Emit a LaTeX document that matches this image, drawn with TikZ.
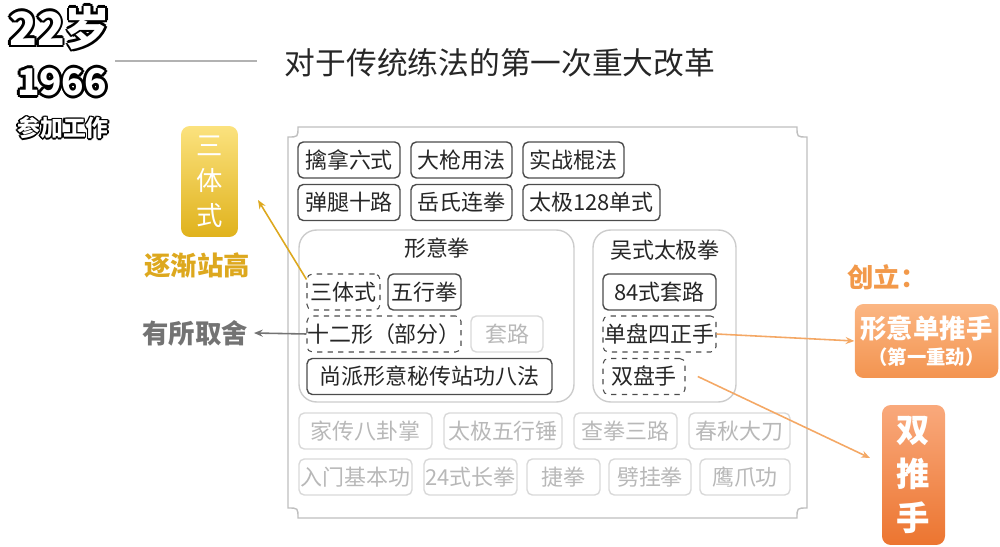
\documentclass[tikz,border=0pt]{standalone}
\usepackage{fontspec}
\setmainfont{Noto Sans CJK SC}
\usetikzlibrary{arrows.meta}
\definecolor{gold}{HTML}{DDA81E}
\definecolor{goldtop}{HTML}{FBE27E}
\definecolor{goldbot}{HTML}{E0B21C}
\definecolor{orng}{HTML}{F2994A}
\definecolor{orngtop}{HTML}{FBB683}
\definecolor{orngbot}{HTML}{F39450}
\definecolor{redtop}{HTML}{F9A97C}
\definecolor{redbot}{HTML}{EC7530}
\tikzset{
  move/.style={draw=black!70, line width=0.8pt, rounded corners=3pt, inner sep=0pt, minimum height=0.72cm, font=\fontsize{12.5}{14}\selectfont, text=black!85},
  dashmove/.style={move, dashed, line width=0.6pt},
  faded/.style={move, draw=black!15, text=black!28},
  group/.style={draw=black!20, line width=0.8pt, rounded corners=10pt, minimum height=3.44cm},
  note/.style={font=\fontsize{15}{17}\selectfont\bfseries},
  link/.style={-{Stealth[length=5pt,width=4pt]}, line width=0.9pt}
}
\begin{document}
\begin{tikzpicture}[x=0.02cm, y=-0.02cm]
\useasboundingbox (0,0) rectangle (1000,547);
% age and year
\foreach \dx/\dy in {-1.5/0,1.5/0,0/-1.5,0/1.5,-1/-1,1/1,-1/1,1/-1}{
  \node[font=\fontsize{26}{28}\selectfont\bfseries, text=black] at ([xshift=\dx pt, yshift=\dy pt]60,28) {22岁};
  \node[font=\fontsize{21}{23}\selectfont\bfseries, text=black] at ([xshift=\dx pt, yshift=\dy pt]62,82) {1966};
  \node[font=\fontsize{13}{15}\selectfont\bfseries, text=black] at ([xshift=0.6*\dx pt, yshift=0.6*\dy pt]63,128) {参加工作};
}
\node (age) [font=\fontsize{26}{28}\selectfont\bfseries, text=white] at (60,28) {22岁};
\node (year) [font=\fontsize{21}{23}\selectfont\bfseries, text=white] at (62,82) {1966};
\node (work) [font=\fontsize{13}{15}\selectfont\bfseries, text=white] at (63,128) {参加工作};
\coordinate (rulea) at (115,61);
\coordinate (ruleb) at (257,61);
\draw[black!30, line width=0.8pt] (rulea) -- (ruleb);
\node (title) [font=\fontsize{17.5}{19}\selectfont, text=black!85] at (500,63) {对于传统练法的第一次重大改革};
% frame
\draw[black!25, line width=0.8pt] (298,127) -- (797,127) .. controls (797,137) .. (807,137)
  -- (807,508) .. controls (797,508) .. (797,518) -- (298,518) .. controls (298,508) .. (288,508)
  -- (288,137) .. controls (298,137) .. (298,127) -- cycle;
% top rows
\node (qinna) [move, minimum width=2.04cm] at (349,160) {擒拿六式};
\node (daqiang) [move, minimum width=2.02cm] at (461.5,160) {大枪用法};
\node (shizhan) [move, minimum width=2.02cm] at (573.5,160) {实战棍法};
\node (tantui) [move, minimum width=2.04cm] at (349,202.5) {弹腿十路};
\node (yueshi) [move, minimum width=2.02cm] at (461.5,202.5) {岳氏连拳};
\node (taiji128) [move, minimum width=2.74cm] at (591.5,202.5) {太极128单式};
% groups
\node (xingyi) [group, minimum width=5.5cm] at (436.5,316) {};
\node [font=\fontsize{12.5}{14}\selectfont, text=black!85] at (437,248) {形意拳};
\node (wushi) [group, minimum width=2.86cm] at (664.5,316) {};
\node [font=\fontsize{12.5}{14}\selectfont, text=black!85] at (665,250) {吴式太极拳};
\node (santi) [dashmove, minimum width=1.46cm] at (343.5,292) {三体式};
\node (wuxing) [move, minimum width=1.46cm] at (424.5,292) {五行拳};
\node (shier) [dashmove, minimum width=3.08cm] at (384,334) {十二形（部分）};
\node (taolu) [faded, minimum width=1.44cm] at (507,334) {套路};
\node (shangpai) [move, minimum width=4.9cm] at (429.5,376.5) {尚派形意秘传站功八法};
\node (ba4) [move, minimum width=2.26cm] at (659.5,292) {84式套路};
\node (danpan) [dashmove, minimum width=2.26cm] at (659.5,334) {单盘四正手};
\node (shuangpan) [dashmove, minimum width=1.64cm] at (644,376.5) {双盘手};
% faded rows
\node (bagua) [faded, minimum width=2.66cm] at (365.5,431) {家传八卦掌};
\node (chui) [faded, minimum width=2.36cm] at (503,431) {太极五行锤};
\node (chaquan) [faded, minimum width=2.06cm] at (625.5,431) {查拳三路};
\node (dadao) [faded, minimum width=2.02cm] at (739.5,431) {春秋大刀};
\node (rumen) [faded, minimum width=2.26cm] at (355.5,477) {入门基本功};
\node (changquan) [faded, minimum width=1.86cm] at (470.5,477) {24式长拳};
\node (jiequan) [faded, minimum width=1.46cm] at (563.5,477) {捷拳};
\node (piqua) [faded, minimum width=1.64cm] at (650,477) {劈挂拳};
\node (yingzhua) [faded, minimum width=1.8cm] at (745,477) {鹰爪功};
% left side
\node (santibar) [top color=goldtop, bottom color=goldbot, rounded corners=5pt, minimum width=1.14cm, minimum height=2.22cm, align=center, text=white, font=\fontsize{15}{20}\selectfont] at (209.5,181.5) {三\\体\\式};
\node (zhangao) [note, text=gold] at (197,265) {逐渐站高};
\node (qushe) [note, text=black!55] at (195,333) {有所取舍};
\coordinate (santiend) at (258,200);
\draw[link, gold] (santi.north west) ++(0,6) -- (santiend);
\draw[link, black!55] (shier.west) -- (qushe.east);
% right side
\node (chuangli) [note, text=orng] at (887,277) {创立：};
\node (tuishou) [top color=orngtop, bottom color=orngbot, rounded corners=5pt, minimum width=2.86cm, minimum height=1.48cm, align=center, text=white, font=\fontsize{15}{17}\selectfont\bfseries] at (926.5,341) {形意单推手\\[-2pt]{\fontsize{11}{13}\selectfont（第一重劲）}};
\node (shuangtui) [top color=redtop, bottom color=redbot, rounded corners=5pt, minimum width=1.26cm, minimum height=2.8cm, align=center, text=white, font=\fontsize{19}{25}\selectfont\bfseries] at (913.5,475) {双\\推\\手};
\coordinate (shuangend) at (870,458);
\draw[link, orng!85] (danpan.east) -- (tuishou.west);
\draw[link, orng!85] ([xshift=7pt]shuangpan.east) -- (shuangend);
\end{tikzpicture}
\end{document}
